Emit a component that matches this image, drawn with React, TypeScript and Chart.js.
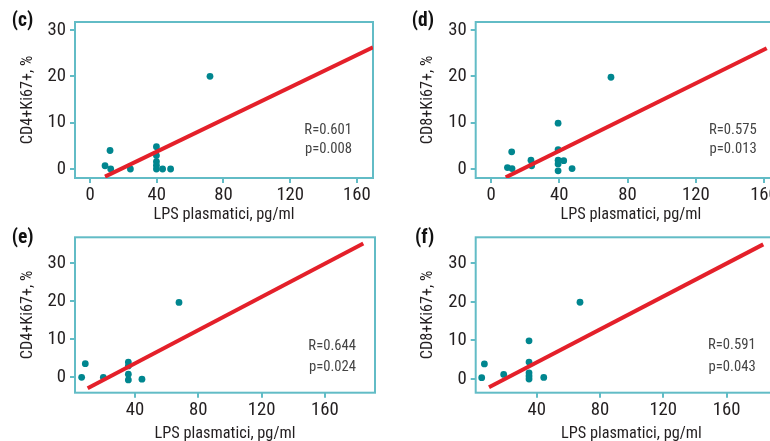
import React, { useEffect, useRef } from "react";
import { Chart, registerables } from "chart.js";

Chart.register(...registerables);

const FONT = "'Roboto Condensed', 'Liberation Sans', Arial, sans-serif";
const FRAME = "#62bcc6";
const DOT = "#00868f";
const RED = "#e4202a";
const TEXT = "#231f20";
const STAT = "#444444";

// ---- Data ----
const cLps = [9, 12, 12.4, 24.2, 39.8, 39.8, 39.8, 39.8, 39.8, 43.5, 48.3, 71.9];
const cCd4 = [0.7, 4.0, 0, 0, 4.8, 2.9, 1.6, 0.8, 0, 0, 0, 20.0];
const cFitX = [9.0, 169.6];
const cFitY = [-1.65, 26.25];

const dLps = [9.6, 12.3, 12.1, 23.4, 23.8, 39.3, 39.3, 39.3, 39.3, 39.3, 42.6, 47.5, 70.3];
const dCd8 = [0.3, 0.1, 3.7, 1.9, 0.7, 9.9, 4.2, 1.9, 1.1, -0.4, 1.8, 0.1, 19.8];
const dFitX = [8.6, 161.6];
const dFitY = [-1.8, 26.05];

const eLps = [6.3, 8.6, 20.0, 35.8, 35.8, 35.8, 35.8, 44.4, 67.8];
const eCd4 = [0, 3.6, 0, 4.0, 3.0, 0.8, -0.7, -0.5, 19.7];
const eFitX = [10.1, 184.2];
const eFitY = [-2.9, 35.2];

const fLps = [5.3, 7.0, 19.2, 35.2, 35.2, 35.2, 35.2, 35.2, 44.5, 67.4];
const fCd8 = [0.35, 3.9, 1.2, 9.9, 4.4, 1.6, 0.8, 0, 0.4, 19.9];
const fFitX = [9.9, 183.2];
const fFitY = [-2.15, 34.9];

const xTicksTop = [0, 40, 80, 120, 160];
const xTicksBottom = [40, 80, 120, 160];
const yTicks = [0, 10, 20, 30];

const xTitle = "LPS plasmatici, pg/ml";
const yTitleCD4 = "CD4+Ki67+, %";
const yTitleCD8 = "CD8+Ki67+, %";

const panelLetters = ["(c)", "(d)", "(e)", "(f)"];
const rLabels = ["R=0.601", "R=0.575", "R=0.644", "R=0.591"];
const pLabels = ["p=0.008", "p=0.013", "p=0.024", "p=0.043"];

// size a font so that a sample string reaches a given width
function fitSize(text: string, target: number, weight = "normal"): number {
  const c = document.createElement("canvas");
  const ctx = c.getContext("2d");
  if (!ctx) return 16;
  ctx.font = `${weight} 100px ${FONT}`;
  const w = ctx.measureText(text).width;
  return w > 0 ? (100 * target) / w : 16;
}

const framePlugin = {
  id: "frame",
  beforeDatasetsDraw(chart: any) {
    const { ctx, chartArea: a } = chart;
    ctx.save();
    ctx.strokeStyle = FRAME;
    ctx.lineWidth = 2;
    ctx.strokeRect(a.left, a.top, a.right - a.left, a.bottom - a.top);
    ctx.restore();
  },
};

const statsPlugin = {
  id: "stats",
  afterDatasetsDraw(chart: any, _args: any, opts: any) {
    if (!opts || !opts.lines) return;
    const { ctx, chartArea: a } = chart;
    ctx.save();
    ctx.fillStyle = STAT;
    ctx.font = `${opts.size}px ${FONT}`;
    ctx.textAlign = "right";
    ctx.textBaseline = "alphabetic";
    opts.lines.forEach((t: string, i: number) => {
      ctx.fillText(t, a.right - opts.inset, a.bottom - opts.fromBottom[i]);
    });
    ctx.fillStyle = "#111";
    ctx.font = `bold ${opts.letterSize}px ${FONT}`;
    ctx.textAlign = "left";
    ctx.fillText(opts.letter, opts.letterX, opts.letterBase);
    ctx.restore();
  },
};

type Area = { left: number; top: number; right: number; bottom: number };

type PanelProps = {
  left: number;
  top: number;
  width: number;
  height: number;
  xs: number[];
  ys: number[];
  fitX: number[];
  fitY: number[];
  xMin: number;
  xMax: number;
  yMin: number;
  yMax: number;
  xTicks: number[];
  yTitle: string;
  area: Area;
  yTitleX: number;
  xTitleY: number;
  xTickY: number;
  stats: string[];
  statInset: number;
  statFromBottom: number[];
  letter: string;
  letterX: number;
  letterBase: number;
};

function Panel(p: PanelProps) {
  const ref = useRef<HTMLCanvasElement | null>(null);
  useEffect(() => {
    if (!ref.current) return;
    const tickSize = fitSize("40", 18.5);
    const titleSize = fitSize(xTitle, 141);
    const statSize = fitSize("R=0.601", 47.7);
    const letterSize = fitSize("(c)", 21.6, "bold");
    const lhTitle = titleSize * 1.2;
    const lhTick = tickSize * 1.2;
    const a = p.area;
    const xHeight = p.xTitleY + lhTitle / 2 - a.bottom;
    const padding = {
      left: 0,
      top: a.top,
      right: p.width - a.right,
      bottom: p.height - a.bottom - xHeight,
    };
    const xTickPad = p.xTickY - a.bottom - 5 - lhTick / 2;
    const yTitlePad = p.yTitleX - lhTitle / 2;

    const points = p.xs.map((x, i) => ({ x, y: p.ys[i] }));
    const fit = p.fitX.map((x, i) => ({ x, y: p.fitY[i] }));
    const gridOpts = {
      drawOnChartArea: false,
      drawTicks: true,
      tickLength: 5,
      tickWidth: 2,
      tickColor: FRAME,
      color: FRAME,
      lineWidth: 2,
    };
    const chart = new Chart(ref.current, {
      type: "scatter",
      data: {
        datasets: [
          {
            type: "line",
            data: fit,
            borderColor: RED,
            borderWidth: 4,
            pointRadius: 0,
            order: 0,
          } as any,
          {
            type: "scatter",
            data: points,
            backgroundColor: DOT,
            borderWidth: 0,
            pointRadius: 3.4,
            order: 1,
          } as any,
        ],
      },
      options: {
        animation: false,
        responsive: false,
        devicePixelRatio: 1,
        layout: { padding },
        plugins: {
          legend: { display: false },
          tooltip: { enabled: false },
          stats: {
            lines: p.stats,
            inset: p.statInset,
            fromBottom: p.statFromBottom,
            size: statSize,
            letter: p.letter,
            letterX: p.letterX,
            letterBase: p.letterBase,
            letterSize,
          },
        } as any,
        scales: {
          x: {
            type: "linear",
            min: p.xMin,
            max: p.xMax,
            afterBuildTicks: (s: any) => {
              s.ticks = p.xTicks.map((v) => ({ value: v }));
            },
            afterFit: (s: any) => {
              s.height = xHeight;
            },
            grid: gridOpts,
            border: { display: false },
            ticks: {
              padding: xTickPad,
              color: TEXT,
              font: { family: FONT, size: tickSize },
              maxRotation: 0,
              autoSkip: false,
            },
            title: {
              display: true,
              text: xTitle,
              color: TEXT,
              font: { family: FONT, size: titleSize },
              padding: 0,
            },
          },
          y: {
            type: "linear",
            min: p.yMin,
            max: p.yMax,
            afterBuildTicks: (s: any) => {
              s.ticks = yTicks.map((v) => ({ value: v }));
            },
            afterFit: (s: any) => {
              s.width = a.left;
            },
            grid: gridOpts,
            border: { display: false },
            ticks: {
              padding: 4,
              color: TEXT,
              font: { family: FONT, size: tickSize },
              autoSkip: false,
            },
            title: {
              display: true,
              text: p.yTitle,
              color: TEXT,
              font: { family: FONT, size: titleSize },
              padding: { top: yTitlePad, bottom: 0 },
            },
          },
        },
      },
      plugins: [framePlugin, statsPlugin],
    });
    return () => chart.destroy();
  }, []);
  return (
    <canvas
      ref={ref}
      width={p.width}
      height={p.height}
      style={{ position: "absolute", left: p.left, top: p.top, width: p.width, height: p.height }}
    />
  );
}

export default function App() {
  return (
    <div
      style={{
        position: "fixed",
        left: 0,
        top: 0,
        width: 770,
        height: 441,
        overflow: "hidden",
        background: "#fff",
      }}
    >
      <Panel
        left={0}
        top={0}
        width={385}
        height={232}
        xs={cLps}
        ys={cCd4}
        fitX={cFitX}
        fitY={cFitY}
        xMin={-9}
        xMax={169.6}
        yMin={-1.94}
        yMax={31.73}
        xTicks={xTicksTop}
        yTitle={yTitleCD4}
        area={{ left: 75, top: 22, right: 373, bottom: 178 }}
        yTitleX={27.5}
        xTitleY={214.5}
        xTickY={195}
        stats={[rLabels[0], pLabels[0]]}
        statInset={21}
        statFromBottom={[44, 25.5]}
        letter={panelLetters[0]}
        letterX={11.7}
        letterBase={26.2}
      />
      <Panel
        left={385}
        top={0}
        width={420}
        height={232}
        xs={dLps}
        ys={dCd8}
        fitX={dFitX}
        fitY={dFitY}
        xMin={-9}
        xMax={172.9}
        yMin={-1.94}
        yMax={31.73}
        xTicks={xTicksTop}
        yTitle={yTitleCD8}
        area={{ left: 90.7, top: 22, right: 401, bottom: 178 }}
        yTitleX={42.5}
        xTitleY={214.5}
        xTickY={195}
        stats={[rLabels[1], pLabels[1]]}
        statInset={29.3}
        statFromBottom={[44, 25.5]}
        letter={panelLetters[1]}
        letterX={26.7}
        letterBase={26.2}
      />
      <Panel
        left={0}
        top={220}
        width={385}
        height={235}
        xs={eLps}
        ys={eCd4}
        fitX={eFitX}
        fitY={eFitY}
        xMin={2.1}
        xMax={191.6}
        yMin={-4.05}
        yMax={36.84}
        xTicks={xTicksBottom}
        yTitle={yTitleCD4}
        area={{ left: 75, top: 17.3, right: 375, bottom: 172.7 }}
        yTitleX={27.5}
        xTitleY={213.5}
        xTickY={190}
        stats={[rLabels[2], pLabels[2]]}
        statInset={19}
        statFromBottom={[42.7, 21.5]}
        letter={panelLetters[2]}
        letterX={11.7}
        letterBase={22.9}
      />
      <Panel
        left={385}
        top={220}
        width={420}
        height={235}
        xs={fLps}
        ys={fCd8}
        fitX={fFitX}
        fitY={fFitY}
        xMin={1.5}
        xMax={198.2}
        yMin={-3.55}
        yMax={36.74}
        xTicks={xTicksBottom}
        yTitle={yTitleCD8}
        area={{ left: 90.7, top: 17.3, right: 402, bottom: 172.7 }}
        yTitleX={42.5}
        xTitleY={213.5}
        xTickY={190}
        stats={[rLabels[3], pLabels[3]]}
        statInset={31.3}
        statFromBottom={[43.4, 21.5]}
        letter={panelLetters[3]}
        letterX={30}
        letterBase={22.9}
      />
    </div>
  );
}
